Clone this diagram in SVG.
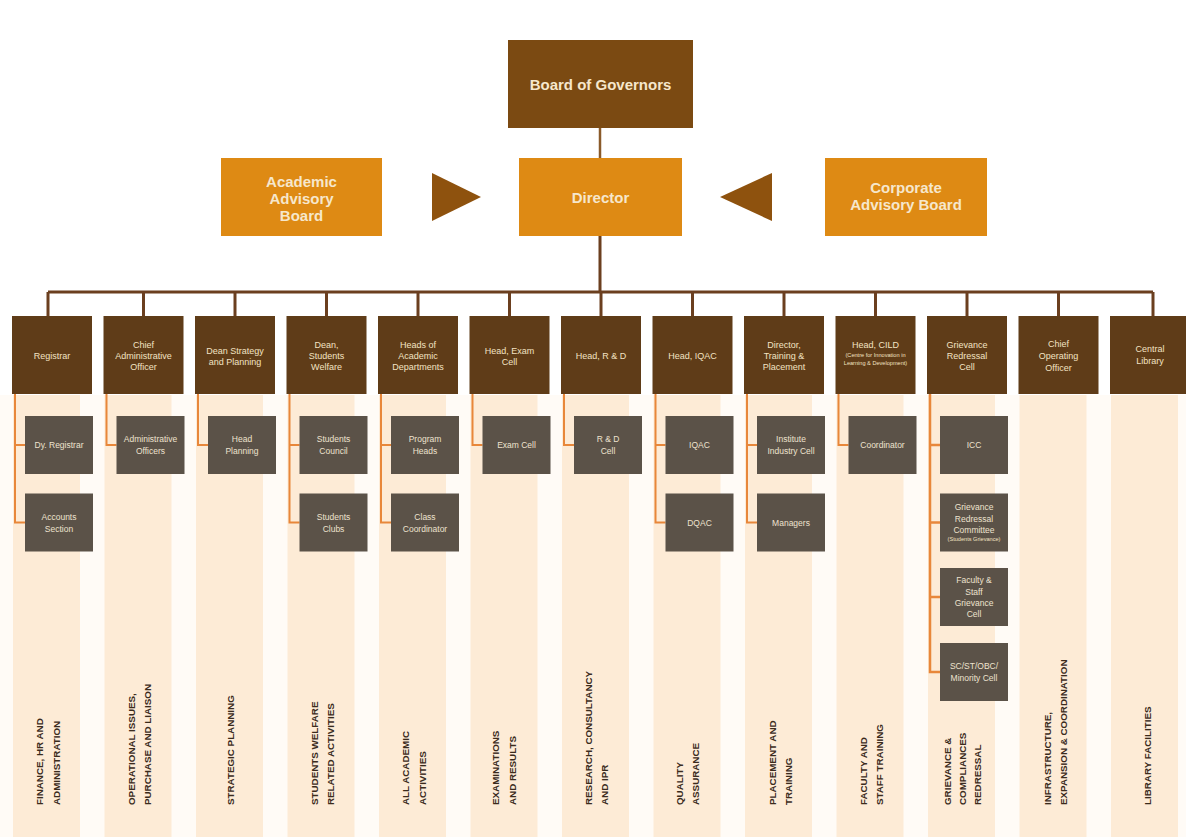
<svg xmlns="http://www.w3.org/2000/svg" width="1186" height="837" viewBox="0 0 1186 837">
<style>
.t{font-family:"Liberation Sans",Arial,sans-serif;text-anchor:middle}
.top{font-size:15px;font-weight:bold;fill:#f6e7cc}
.hd{font-size:9px;fill:#f3e3c3}
.sm{font-size:5.6px;fill:#f3e3c3}
.sb{font-size:8.5px;fill:#eee2cf}
.vt{font-family:"Liberation Sans",Arial,sans-serif;font-size:9.8px;font-weight:bold;fill:#3b2b1d}
.stripe{fill:#fdebd6}
.gap{fill:#fef7ee}
.hbox{fill:#5f3c18}
.sbox{fill:#5b5248}
.orange{fill:#de8a14}
.main{stroke:#6b3f1f;stroke-width:3;fill:none}
.sub{stroke:#e8873a;stroke-width:2;fill:none}
</style>
<rect width="1186" height="837" fill="#ffffff"/>
<g id="stripes">
<rect x="0" y="395" width="1186" height="442" fill="#fffbf6"/>
<rect class="stripe" x="13" y="395" width="67" height="442"/>
<rect class="stripe" x="104.5" y="395" width="67" height="442"/>
<rect class="stripe" x="196" y="395" width="67" height="442"/>
<rect class="stripe" x="287.5" y="395" width="67" height="442"/>
<rect class="stripe" x="379" y="395" width="67" height="442"/>
<rect class="stripe" x="470.5" y="395" width="67" height="442"/>
<rect class="stripe" x="562" y="395" width="67" height="442"/>
<rect class="stripe" x="653.5" y="395" width="67" height="442"/>
<rect class="stripe" x="745" y="395" width="67" height="442"/>
<rect class="stripe" x="836.5" y="395" width="67" height="442"/>
<rect class="stripe" x="928" y="395" width="67" height="442"/>
<rect class="stripe" x="1019.5" y="395" width="67" height="442"/>
<rect class="stripe" x="1111" y="395" width="67" height="442"/>
</g>
<g id="connectors">
<line class="main" x1="600" y1="128" x2="600" y2="158" style="stroke:#8a5a2a;stroke-width:2.5"/>
<line class="main" x1="600" y1="236" x2="600" y2="292"/>
<line class="main" x1="48" y1="292" x2="1153" y2="292"/>
<line class="main" x1="48" y1="292" x2="48" y2="316"/>
<line class="main" x1="143.5" y1="292" x2="143.5" y2="316"/>
<line class="main" x1="235" y1="292" x2="235" y2="316"/>
<line class="main" x1="326.5" y1="292" x2="326.5" y2="316"/>
<line class="main" x1="418" y1="292" x2="418" y2="316"/>
<line class="main" x1="509.5" y1="292" x2="509.5" y2="316"/>
<line class="main" x1="601" y1="292" x2="601" y2="316"/>
<line class="main" x1="692.5" y1="292" x2="692.5" y2="316"/>
<line class="main" x1="784" y1="292" x2="784" y2="316"/>
<line class="main" x1="875.5" y1="292" x2="875.5" y2="316"/>
<line class="main" x1="967" y1="292" x2="967" y2="316"/>
<line class="main" x1="1058.5" y1="292" x2="1058.5" y2="316"/>
<line class="main" x1="1153" y1="292" x2="1153" y2="316"/>
<path class="sub" d="M15 394 V522.5 H25 M15 445 H25"/>
<path class="sub" d="M106.5 394 V445 H116.5"/>
<path class="sub" d="M198 394 V445 H208"/>
<path class="sub" d="M289.5 394 V522.5 H299.5 M289.5 445 H299.5"/>
<path class="sub" d="M381 394 V522.5 H391 M381 445 H391"/>
<path class="sub" d="M472.5 394 V445 H482.5"/>
<path class="sub" d="M564 394 V445 H574"/>
<path class="sub" d="M655.5 394 V522.5 H665.5 M655.5 445 H665.5"/>
<path class="sub" d="M747 394 V522.5 H757 M747 445 H757"/>
<path class="sub" d="M838.5 394 V445 H848.5"/>
<path class="sub" d="M930 394 V672 H940 M930 445 H940 M930 522.5 H940 M930 597 H940" style="stroke-width:2.5"/>
</g>
<g id="board-of-governors">
<rect x="508" y="40" width="185" height="88" fill="#7b4a12"/>
<text class="t top" x="600.5" y="90">Board of Governors</text>
</g>
<g id="director">
<rect class="orange" x="519" y="158" width="163" height="78"/>
<text class="t top" x="600.5" y="203">Director</text>
</g>
<g id="academic-advisory-board">
<rect class="orange" x="221" y="158" width="161" height="78"/>
<text class="t top" x="301.5" y="187">Academic</text>
<text class="t top" x="301.5" y="204">Advisory</text>
<text class="t top" x="301.5" y="221">Board</text>
</g>
<g id="corporate-advisory-board">
<rect class="orange" x="825" y="158" width="162" height="78"/>
<text class="t top" x="906" y="193">Corporate</text>
<text class="t top" x="906" y="210">Advisory Board</text>
</g>
<g id="arrows">
<polygon points="432,173 481,197 432,221" fill="#8e520e"/>
<polygon points="772,173 720,197 772,221" fill="#8e520e"/>
</g>
<g id="registrar">
<rect class="hbox" x="12" y="316" width="80" height="78"/>
<text class="t hd" x="52" y="359">Registrar</text>
</g>
<g id="chief-administrative-officer">
<rect class="hbox" x="103.5" y="316" width="80" height="78"/>
<text class="t hd" x="143.5" y="348">Chief</text>
<text class="t hd" x="143.5" y="359">Administrative</text>
<text class="t hd" x="143.5" y="370">Officer</text>
</g>
<g id="dean-strategy">
<rect class="hbox" x="195" y="316" width="80" height="78"/>
<text class="t hd" x="235" y="354">Dean Strategy</text>
<text class="t hd" x="235" y="365">and Planning</text>
</g>
<g id="dean-students-welfare">
<rect class="hbox" x="286.5" y="316" width="80" height="78"/>
<text class="t hd" x="326.5" y="348">Dean,</text>
<text class="t hd" x="326.5" y="359">Students</text>
<text class="t hd" x="326.5" y="370">Welfare</text>
</g>
<g id="heads-academic">
<rect class="hbox" x="378" y="316" width="80" height="78"/>
<text class="t hd" x="418" y="348">Heads of</text>
<text class="t hd" x="418" y="359">Academic</text>
<text class="t hd" x="418" y="370">Departments</text>
</g>
<g id="head-exam-cell">
<rect class="hbox" x="469.5" y="316" width="80" height="78"/>
<text class="t hd" x="509.5" y="354">Head, Exam</text>
<text class="t hd" x="509.5" y="365">Cell</text>
</g>
<g id="head-rd">
<rect class="hbox" x="561" y="316" width="80" height="78"/>
<text class="t hd" x="601" y="359">Head, R &amp; D</text>
</g>
<g id="head-iqac">
<rect class="hbox" x="652.5" y="316" width="80" height="78"/>
<text class="t hd" x="692.5" y="359">Head, IQAC</text>
</g>
<g id="director-training">
<rect class="hbox" x="744" y="316" width="80" height="78"/>
<text class="t hd" x="784" y="348">Director,</text>
<text class="t hd" x="784" y="359">Training &amp;</text>
<text class="t hd" x="784" y="370">Placement</text>
</g>
<g id="head-cild">
<rect class="hbox" x="835.5" y="316" width="80" height="78"/>
<text class="t hd" x="875.5" y="348">Head, CILD</text>
<text class="t sm" x="875.5" y="357">(Centre for Innovation in</text>
<text class="t sm" x="875.5" y="365">Learning &amp; Development)</text>
</g>
<g id="grievance-redressal-cell">
<rect class="hbox" x="927" y="316" width="80" height="78"/>
<text class="t hd" x="967" y="348">Grievance</text>
<text class="t hd" x="967" y="359">Redressal</text>
<text class="t hd" x="967" y="370">Cell</text>
</g>
<g id="chief-operating-officer">
<rect class="hbox" x="1018.5" y="316" width="80" height="78"/>
<text class="t hd" x="1058.5" y="347">Chief</text>
<text class="t hd" x="1058.5" y="359">Operating</text>
<text class="t hd" x="1058.5" y="371">Officer</text>
</g>
<g id="central-library">
<rect class="hbox" x="1110" y="316" width="80" height="78"/>
<text class="t hd" x="1150" y="352">Central</text>
<text class="t hd" x="1150" y="364">Library</text>
</g>
<g id="dy-registrar"><rect class="sbox" x="25" y="416" width="68" height="58"/><text class="t sb" x="59" y="448">Dy. Registrar</text></g>
<g id="accounts-section"><rect class="sbox" x="25" y="493.5" width="68" height="58"/><text class="t sb" x="59" y="519.5">Accounts</text><text class="t sb" x="59" y="531.5">Section</text></g>
<g id="administrative-officers"><rect class="sbox" x="116.5" y="416" width="68" height="58"/><text class="t sb" x="150.5" y="442">Administrative</text><text class="t sb" x="150.5" y="454">Officers</text></g>
<g id="head-planning"><rect class="sbox" x="208" y="416" width="68" height="58"/><text class="t sb" x="242" y="442">Head</text><text class="t sb" x="242" y="454">Planning</text></g>
<g id="students-council"><rect class="sbox" x="299.5" y="416" width="68" height="58"/><text class="t sb" x="333.5" y="442">Students</text><text class="t sb" x="333.5" y="454">Council</text></g>
<g id="students-clubs"><rect class="sbox" x="299.5" y="493.5" width="68" height="58"/><text class="t sb" x="333.5" y="519.5">Students</text><text class="t sb" x="333.5" y="531.5">Clubs</text></g>
<g id="program-heads"><rect class="sbox" x="391" y="416" width="68" height="58"/><text class="t sb" x="425" y="442">Program</text><text class="t sb" x="425" y="454">Heads</text></g>
<g id="class-coordinator"><rect class="sbox" x="391" y="493.5" width="68" height="58"/><text class="t sb" x="425" y="519.5">Class</text><text class="t sb" x="425" y="531.5">Coordinator</text></g>
<g id="exam-cell"><rect class="sbox" x="482.5" y="416" width="68" height="58"/><text class="t sb" x="516.5" y="448">Exam Cell</text></g>
<g id="rd-cell"><rect class="sbox" x="574" y="416" width="68" height="58"/><text class="t sb" x="608" y="442">R &amp; D</text><text class="t sb" x="608" y="454">Cell</text></g>
<g id="iqac"><rect class="sbox" x="665.5" y="416" width="68" height="58"/><text class="t sb" x="699.5" y="448">IQAC</text></g>
<g id="dqac"><rect class="sbox" x="665.5" y="493.5" width="68" height="58"/><text class="t sb" x="699.5" y="525.5">DQAC</text></g>
<g id="institute-industry-cell"><rect class="sbox" x="757" y="416" width="68" height="58"/><text class="t sb" x="791" y="442">Institute</text><text class="t sb" x="791" y="454">Industry Cell</text></g>
<g id="managers"><rect class="sbox" x="757" y="493.5" width="68" height="58"/><text class="t sb" x="791" y="525.5">Managers</text></g>
<g id="coordinator"><rect class="sbox" x="848.5" y="416" width="68" height="58"/><text class="t sb" x="882.5" y="448">Coordinator</text></g>
<g id="icc"><rect class="sbox" x="940" y="416" width="68" height="58"/><text class="t sb" x="974" y="448">ICC</text></g>
<g id="grievance-redressal-committee"><rect class="sbox" x="940" y="493.5" width="68" height="58"/><text class="t sb" x="974" y="510">Grievance</text><text class="t sb" x="974" y="521.5">Redressal</text><text class="t sb" x="974" y="533">Committee</text><text class="t sm" x="974" y="541">(Students Grievance)</text></g>
<g id="faculty-staff-grievance-cell"><rect class="sbox" x="940" y="568" width="68" height="58"/><text class="t sb" x="974" y="583">Faculty &amp;</text><text class="t sb" x="974" y="594.5">Staff</text><text class="t sb" x="974" y="606">Grievance</text><text class="t sb" x="974" y="617">Cell</text></g>
<g id="minority-cell"><rect class="sbox" x="940" y="643" width="68" height="58"/><text class="t sb" x="974" y="669">SC/ST/OBC/</text><text class="t sb" x="974" y="681">Minority Cell</text></g>
<g id="functions">
<text class="vt" transform="translate(43,805) rotate(-90)">FINANCE, HR AND</text>
<text class="vt" transform="translate(59.5,805) rotate(-90)">ADMINISTRATION</text>
<text class="vt" transform="translate(134.5,805) rotate(-90)">OPERATIONAL ISSUES,</text>
<text class="vt" transform="translate(151,805) rotate(-90)">PURCHASE AND LIAISON</text>
<text class="vt" transform="translate(234,805) rotate(-90)">STRATEGIC PLANNING</text>
<text class="vt" transform="translate(317.5,805) rotate(-90)">STUDENTS WELFARE</text>
<text class="vt" transform="translate(334,805) rotate(-90)">RELATED ACTIVITIES</text>
<text class="vt" transform="translate(409,805) rotate(-90)">ALL ACADEMIC</text>
<text class="vt" transform="translate(425.5,805) rotate(-90)">ACTIVITIES</text>
<text class="vt" transform="translate(499,805) rotate(-90)">EXAMINATIONS</text>
<text class="vt" transform="translate(516,805) rotate(-90)">AND RESULTS</text>
<text class="vt" transform="translate(591.5,805) rotate(-90)">RESEARCH, CONSULTANCY</text>
<text class="vt" transform="translate(608,805) rotate(-90)">AND IPR</text>
<text class="vt" transform="translate(683,805) rotate(-90)">QUALITY</text>
<text class="vt" transform="translate(699,805) rotate(-90)">ASSURANCE</text>
<text class="vt" transform="translate(775.5,805) rotate(-90)">PLACEMENT AND</text>
<text class="vt" transform="translate(792,805) rotate(-90)">TRAINING</text>
<text class="vt" transform="translate(866.5,805) rotate(-90)">FACULTY AND</text>
<text class="vt" transform="translate(883,805) rotate(-90)">STAFF TRAINING</text>
<text class="vt" transform="translate(950.5,805) rotate(-90)">GRIEVANCE &amp;</text>
<text class="vt" transform="translate(965.5,805) rotate(-90)">COMPLIANCES</text>
<text class="vt" transform="translate(980.5,805) rotate(-90)">REDRESSAL</text>
<text class="vt" transform="translate(1050.5,805) rotate(-90)">INFRASTRUCTURE,</text>
<text class="vt" transform="translate(1066.5,805) rotate(-90)">EXPANSION &amp; COORDINATION</text>
<text class="vt" transform="translate(1150.5,805) rotate(-90)">LIBRARY FACILITIES</text>
</g>
</svg>
